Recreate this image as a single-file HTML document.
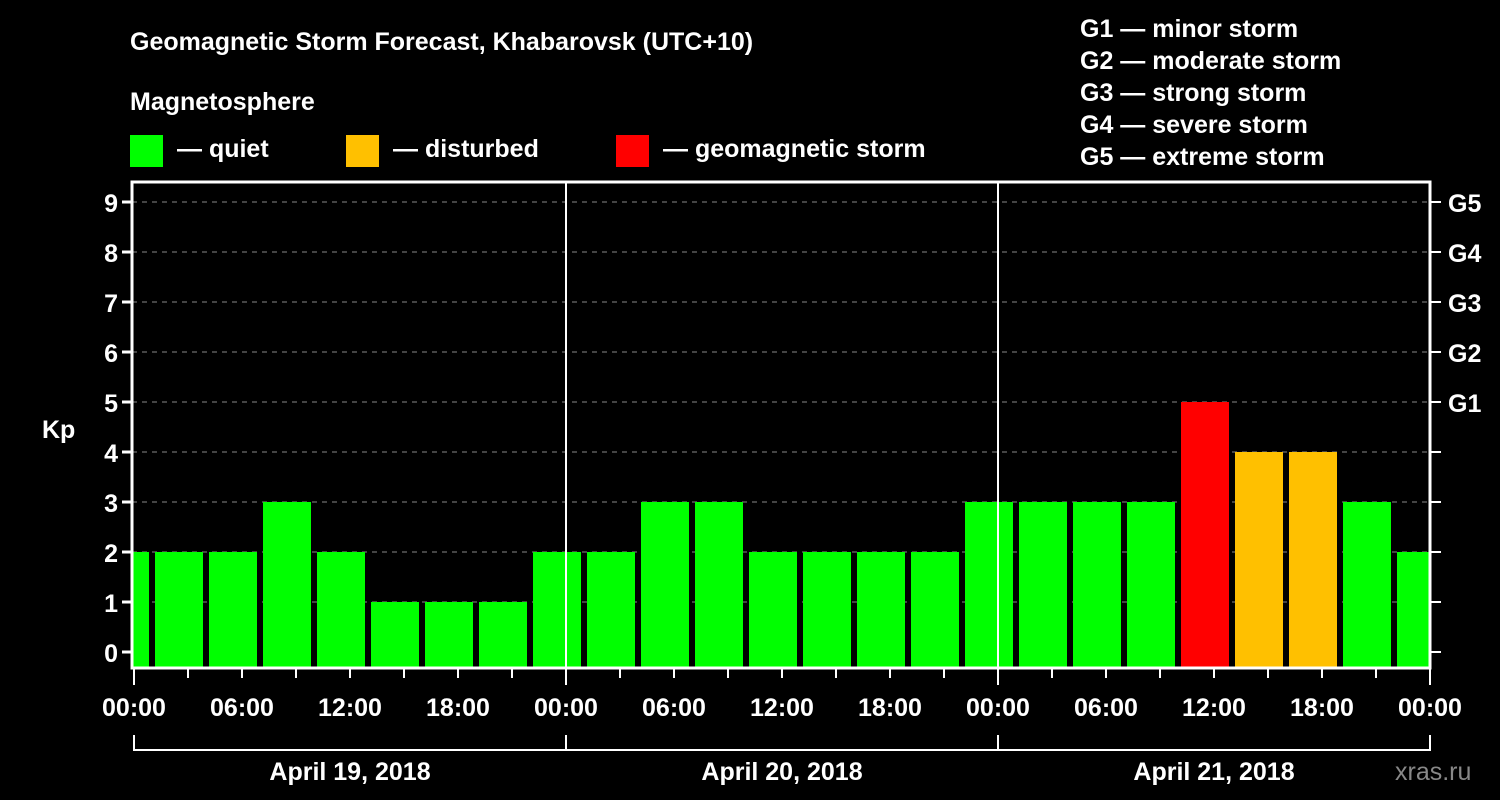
<!DOCTYPE html>
<html><head><meta charset="utf-8"><style>
body{margin:0;background:#000;}
svg{display:block;font-family:"Liberation Sans",Arial,sans-serif;font-weight:bold;}
</style></head><body>
<svg id="chart" width="1500" height="800" viewBox="0 0 1500 800">
<rect width="1500" height="800" fill="#000"/>
<text x="130" y="50" fill="#fff" font-size="25">Geomagnetic Storm Forecast, Khabarovsk (UTC+10)</text>
<text x="130" y="110" fill="#fff" font-size="25">Magnetosphere</text>
<g><rect x="130" y="135" width="33" height="32" fill="#00ff00"/><text x="177" y="157" fill="#fff" font-size="25">— quiet</text></g>
<g><rect x="346" y="135" width="33" height="32" fill="#ffc000"/><text x="393" y="157" fill="#fff" font-size="25">— disturbed</text></g>
<g><rect x="616" y="135" width="33" height="32" fill="#ff0000"/><text x="663" y="157" fill="#fff" font-size="25">— geomagnetic storm</text></g>
<g fill="#fff" font-size="25">
<text x="1080" y="37">G1 — minor storm</text>
<text x="1080" y="69">G2 — moderate storm</text>
<text x="1080" y="101">G3 — strong storm</text>
<text x="1080" y="133">G4 — severe storm</text>
<text x="1080" y="165">G5 — extreme storm</text>
</g>
<g id="plot"></g>
<text x="42" y="438" fill="#fff" font-size="25">Kp</text>
<text x="1395" y="780" fill="#888" font-size="25" font-weight="normal">xras.ru</text>
</svg>
<script>
const startHours=[-2,1,4,7,10,13,16,19,22,25,28,31,34,37,40,43,46,49,52,55,58,61,64,67,70];
const kpValues=[2,2,2,3,2,1,1,1,2,2,3,3,2,2,2,2,3,3,3,3,5,4,4,3,2];
const dayLabels=["April 19, 2018","April 20, 2018","April 21, 2018"];
const hourLabels=["00:00","06:00","12:00","18:00"];
const gLabels=["G1","G2","G3","G4","G5"];
const X0=134,PXH=18,L=132,R=1430,T=182,B=668;
const xs=h=>X0+h*PXH;
const ys=v=>652-50*v;
const NS="http://www.w3.org/2000/svg";
const plot=document.getElementById('plot');
function mk(tag,attrs,parent){const e=document.createElementNS(NS,tag);for(const k in attrs)e.setAttribute(k,attrs[k]);(parent||plot).appendChild(e);return e;}
// grid and y ticks
for(let v=0;v<=9;v++){
  const y=ys(v);
  if(v>0){const g=mk('line',{x1:L,x2:R,y1:y,y2:y,stroke:'#888','stroke-dasharray':'5,5','stroke-width':1});
  
  }
  const t=mk('line',{x1:L-10,x2:L,y1:y,y2:y,stroke:'#fff','stroke-width':3});
  
  
  const t2=mk('line',{x1:R,x2:R+11,y1:y,y2:y,stroke:'#fff','stroke-width':2});
  
  
  const lb=mk('text',{x:L-14,y:y+10,fill:'#fff','font-size':25,'text-anchor':'end'});
  lb.textContent=v;
  
  
  if(v>=5){const gl=mk('text',{x:1448,y:y+10,fill:'#fff','font-size':25});
  gl.textContent=gLabels[v-5];
  
  }
}
// bars
startHours.forEach((h,i)=>{
  const v=kpValues[i];
  let x1=Math.max(xs(h)+3,L), x2=Math.min(xs(h+3)-3,R);
  const col=v>=5?'#ff0000':(v>=4?'#ffc000':'#00ff00');
  const b=mk('rect',{x:x1,y:ys(v),width:x2-x1,height:B-ys(v),fill:col});
  
  
});
// day dividers
for(let d=1;d<3;d++){const l=mk('line',{x1:xs(24*d),x2:xs(24*d),y1:T,y2:B,stroke:'#fff','stroke-width':2});

}
// frame
const f=mk('rect',{x:L,y:T,width:R-L,height:B-T,fill:'none',stroke:'#fff','stroke-width':3});


// x ticks
for(let h=0;h<=72;h+=3){
  const x=xs(h);const long=h%24===0;
  const t=mk('line',{x1:x,x2:x,y1:B,y2:long?685:678,stroke:'#fff','stroke-width':2});
  
  
  if(h%6===0){const lb=mk('text',{x:x,y:716,fill:'#fff','font-size':25,'text-anchor':'middle'});
  lb.textContent=h===72?hourLabels[0]:hourLabels[(h%24)/6];
  
  }
}
// date brackets
dayLabels.forEach((d,i)=>{
  const a=xs(24*i),b=xs(24*(i+1));
  const p=mk('path',{d:`M${a} 735V750H${b}V735`,stroke:'#fff','stroke-width':2,fill:'none'});
  
  
  const t=mk('text',{x:(a+b)/2,y:780,fill:'#fff','font-size':25,'text-anchor':'middle'});
  t.textContent=d;
  
  
});
</script>
</body></html>
